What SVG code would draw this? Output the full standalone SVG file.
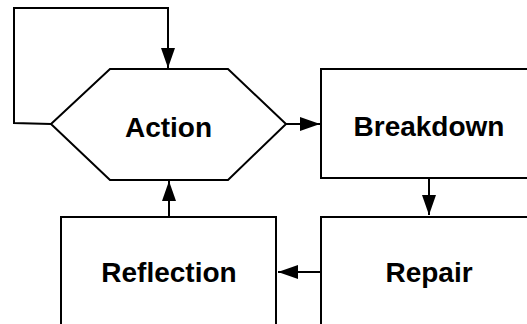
<svg xmlns="http://www.w3.org/2000/svg" width="527" height="324" viewBox="0 0 527 324">
<defs>
<marker id="arr" markerUnits="userSpaceOnUse" markerWidth="20" markerHeight="14" refX="20" refY="7" orient="auto" overflow="visible">
<path d="M0,0 L20,7 L0,14 Z" fill="#000"/>
</marker>
<style>
.shape{fill:#fff;stroke:#000;stroke-width:2}
.lbl{font-family:"Liberation Sans",Arial,sans-serif;font-weight:bold;font-size:28px;fill:#000;text-anchor:middle}
.conn{fill:none;stroke:#000;stroke-width:2;marker-end:url(#arr)}
</style>
</defs>
<rect width="527" height="324" fill="#fff"/>
<g id="action">
<polygon class="shape" points="110,69 228,69 286,124 228,180 110,180 51,124"/>
<text class="lbl" x="168.5" y="137">Action</text>
</g>
<g id="breakdown">
<rect class="shape" x="321" y="69" width="230" height="109"/>
<text class="lbl" x="429" y="136">Breakdown</text>
</g>
<g id="repair">
<rect class="shape" x="321" y="217" width="230" height="130"/>
<text class="lbl" x="429" y="282">Repair</text>
</g>
<g id="reflection">
<rect class="shape" x="61" y="217" width="215" height="130"/>
<text class="lbl" x="169" y="282">Reflection</text>
</g>
<g id="connectors">
<path class="conn" d="M51,124 L14,123 L14,8 L168,8 L168,68"/>
<path class="conn" d="M286,124 L320,124"/>
<path class="conn" d="M429,178 L429,215"/>
<path class="conn" d="M321,272 L278,272"/>
<path class="conn" d="M169,217 L169,181"/>
</g>
</svg>
